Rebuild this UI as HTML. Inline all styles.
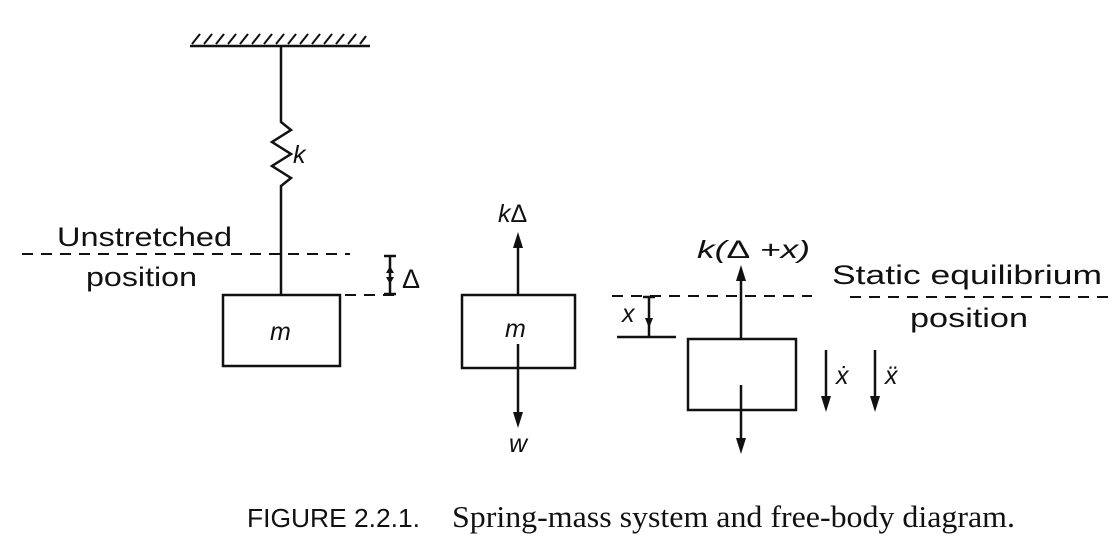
<!DOCTYPE html>
<html><head><meta charset="utf-8"><style>
body{margin:0;background:#fff;width:1120px;height:554px;overflow:hidden}
svg text{fill:#111}
</style></head><body>
<svg width="1120" height="554" viewBox="0 0 1120 554" xmlns="http://www.w3.org/2000/svg">
<g stroke="#111" stroke-width="2.5" fill="none">
<line x1="190" y1="46" x2="370" y2="46"/>
<g stroke-width="2">
<path d="M192,44 l8,-10 M204,44 l8,-10 M216,44 l8,-10 M228,44 l8,-10 M240,44 l8,-10 M252,44 l8,-10 M264,44 l8,-10 M276,44 l8,-10 M288,44 l8,-10 M300,44 l8,-10 M312,44 l8,-10 M324,44 l8,-10 M336,44 l8,-10 M348,44 l8,-10 M360,44 l6,-8"/>
</g>
<path d="M281,46 L281,122 L291,130 L272,142 L291,154 L272,166 L291,178 L281,186 L281,295"/>
<rect x="223" y="295" width="117" height="71"/>
<rect x="462" y="295" width="113" height="73"/>
<rect x="688" y="339" width="108" height="71"/>
<g stroke-width="2" stroke-dasharray="11,8">
<line x1="22" y1="254" x2="350" y2="254"/>
<line x1="345" y1="295" x2="400" y2="295"/>
<line x1="612" y1="296" x2="812" y2="296"/>
<line x1="850" y1="297" x2="1110" y2="297"/>
</g>
<line x1="384" y1="256" x2="396" y2="256"/>
<line x1="384" y1="294" x2="396" y2="294"/>
<line x1="390" y1="256" x2="390" y2="294"/>
<line x1="643" y1="297" x2="655" y2="297"/>
<line x1="649" y1="297" x2="649" y2="336"/>
<line x1="617" y1="337" x2="676" y2="337"/>
<line x1="518" y1="295" x2="518" y2="245"/>
<line x1="518" y1="344" x2="518" y2="415"/>
<line x1="741" y1="339" x2="741" y2="278"/>
<line x1="741" y1="385" x2="741" y2="442"/>
<line x1="826" y1="350" x2="826" y2="400"/>
<line x1="875" y1="350" x2="875" y2="400"/>
</g>
<g fill="#111">
<path d="M513,248 L523,248 L518,232 Z"/>
<path d="M513,412 L523,412 L518,428 Z"/>
<path d="M736,281 L746,281 L741,265 Z"/>
<path d="M736,438 L746,438 L741,454 Z"/>
<path d="M821,396 L831,396 L826,412 Z"/>
<path d="M870,396 L880,396 L875,412 Z"/>
<path d="M386,273 L394,273 L390,266 Z"/>
<path d="M386,277 L394,277 L390,284 Z"/>
<path d="M645,318 L653,318 L649,328 Z"/>
</g>
<g font-family="Liberation Sans, DejaVu Sans, sans-serif" font-size="27">
<text x="57" y="246" textLength="175" lengthAdjust="spacingAndGlyphs">Unstretched</text>
<text x="86" y="286" textLength="111" lengthAdjust="spacingAndGlyphs">position</text>
<text x="832" y="284" textLength="270" lengthAdjust="spacingAndGlyphs">Static equilibrium</text>
<text x="910" y="327" textLength="118" lengthAdjust="spacingAndGlyphs">position</text>
<text x="402" y="288">Δ</text>
</g>
<g font-family="Liberation Sans, DejaVu Sans, sans-serif" font-size="25" font-style="italic">
<text x="293" y="163">k</text>
<text x="270" y="340">m</text>
<text x="505" y="337">m</text>
<text x="498" y="222">k<tspan font-style="normal">Δ</tspan></text>
<text x="697" y="258" textLength="113" lengthAdjust="spacingAndGlyphs">k(<tspan font-style="normal">Δ</tspan> +x)</text>
<text x="622" y="322">x</text>
<text x="509" y="452">w</text>
<text x="836" y="384">ẋ</text>
<text x="885" y="384">ẍ</text>
</g>
<text x="247" y="527" font-family="Liberation Sans, sans-serif" font-size="26" textLength="173" lengthAdjust="spacingAndGlyphs">FIGURE 2.2.1.</text>
<text x="452" y="527" font-family="Liberation Serif, serif" font-size="31" textLength="563" lengthAdjust="spacingAndGlyphs">Spring-mass system and free-body diagram.</text>
</svg>
</body></html>
